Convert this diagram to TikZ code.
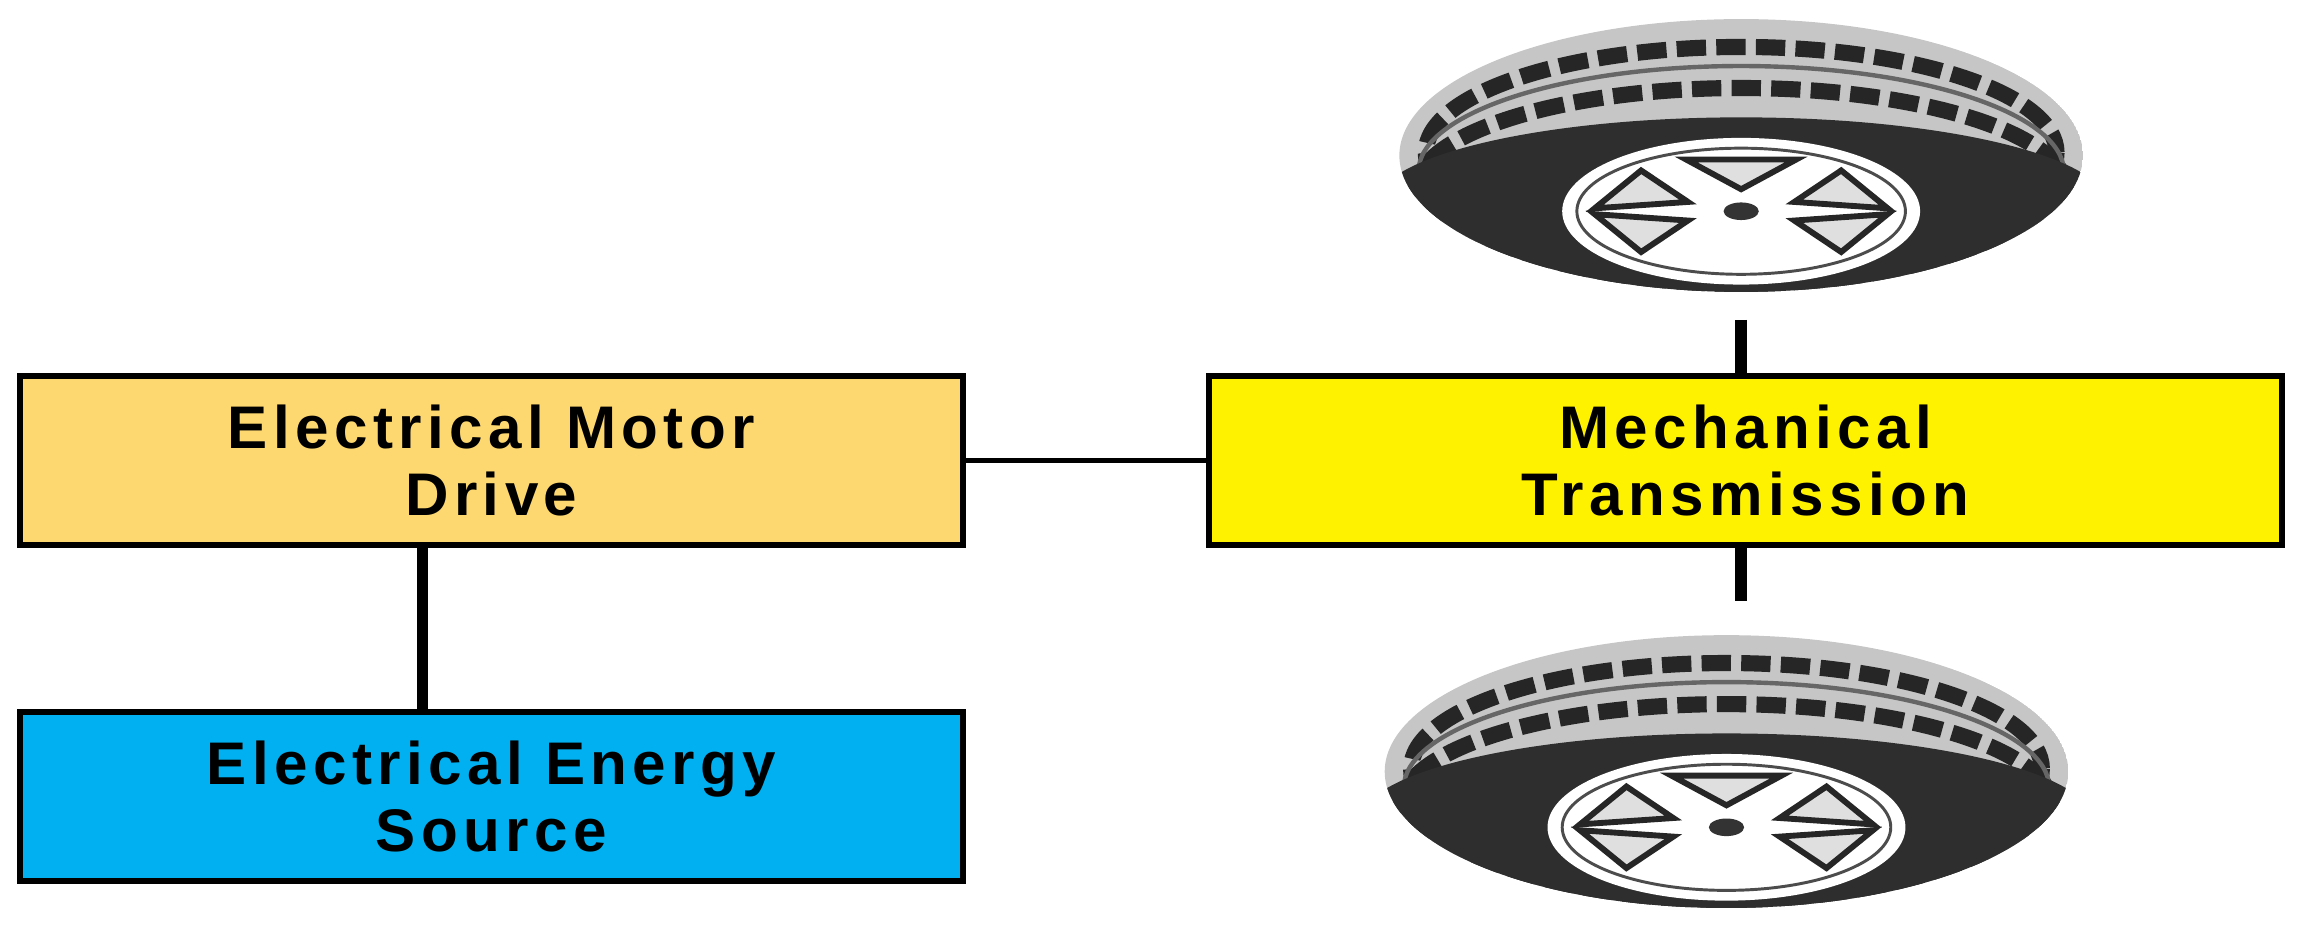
\documentclass[tikz,border=0pt]{standalone}
\usepackage{fontspec}
\setmainfont{Liberation Sans}
\usetikzlibrary{calc}
\begin{document}
\begin{tikzpicture}[x=1pt,y=-1pt,
  box/.style={draw=black,line width=4pt,minimum width=643pt,minimum height=115pt,align=center,inner sep=0pt,
    font=\fontsize{41}{46}\selectfont\bfseries\addfontfeatures{LetterSpace=9}},
  tire/.pic={
    \begin{scope}
    \clip (0,0) ellipse [x radius=233, y radius=93];
    \fill[gray!45] (0,0) ellipse [x radius=233, y radius=93];
    \draw[black!85,line width=11pt,dash pattern=on 20pt off 7pt] (0,-2) ellipse [x radius=215, y radius=72];
    \draw[black!85,line width=11pt,dash pattern=on 20pt off 7pt] (0,24) ellipse [x radius=222, y radius=70];
    \draw[black!60,line width=3pt] (0,11) ellipse [x radius=220, y radius=72];
    \fill[black!82] (0,34) ellipse [x radius=250, y radius=60];
    \end{scope}
    \fill[white] (0,38) ellipse [x radius=122, y radius=50];
    \draw[black!70,line width=2pt] (0,38) ellipse [x radius=112, y radius=43];
    \foreach \a in {25,155,205,335,270}{
      \fill[white!75!gray,draw=black!85,line width=4pt] ($(0,38)+({100*cos(\a-22)},{38*sin(\a-22)})$) -- ($(0,38)+({100*cos(\a+22)},{38*sin(\a+22)})$) -- ($(0,38)+({40*cos(\a)},{15*sin(\a)})$) -- cycle;}
    \fill[black!80] (0,38) ellipse [x radius=12, y radius=6];
  }]
\useasboundingbox (0,0) rectangle (1568,633);
\node[box,fill={rgb,255:red,253;green,216;blue,112}] (motor) at (335,314) {Electrical Motor\\Drive};
\node[box,fill={rgb,255:red,0;green,176;blue,240}] (source) at (335,543) {Electrical Energy\\Source};
\node[box,fill=yellow,minimum width=732pt] (mech) at (1190,314) {Mechanical\\Transmission};
\coordinate (t1) at (1187,218);
\coordinate (t2) at (1187,410);
\coordinate (m1) at (288,373);
\coordinate (s1) at (288,487);
\pic at (1187,106) {tire};
\pic at (1177,526) {tire};
\draw[line width=3pt] (motor) -- (mech);
\draw[line width=8pt] (m1) -- (s1);
\draw[line width=8pt] (t1) -- (t1|-mech.north);
\draw[line width=8pt] (t2|-mech.south) -- (t2);
\end{tikzpicture}
\end{document}
